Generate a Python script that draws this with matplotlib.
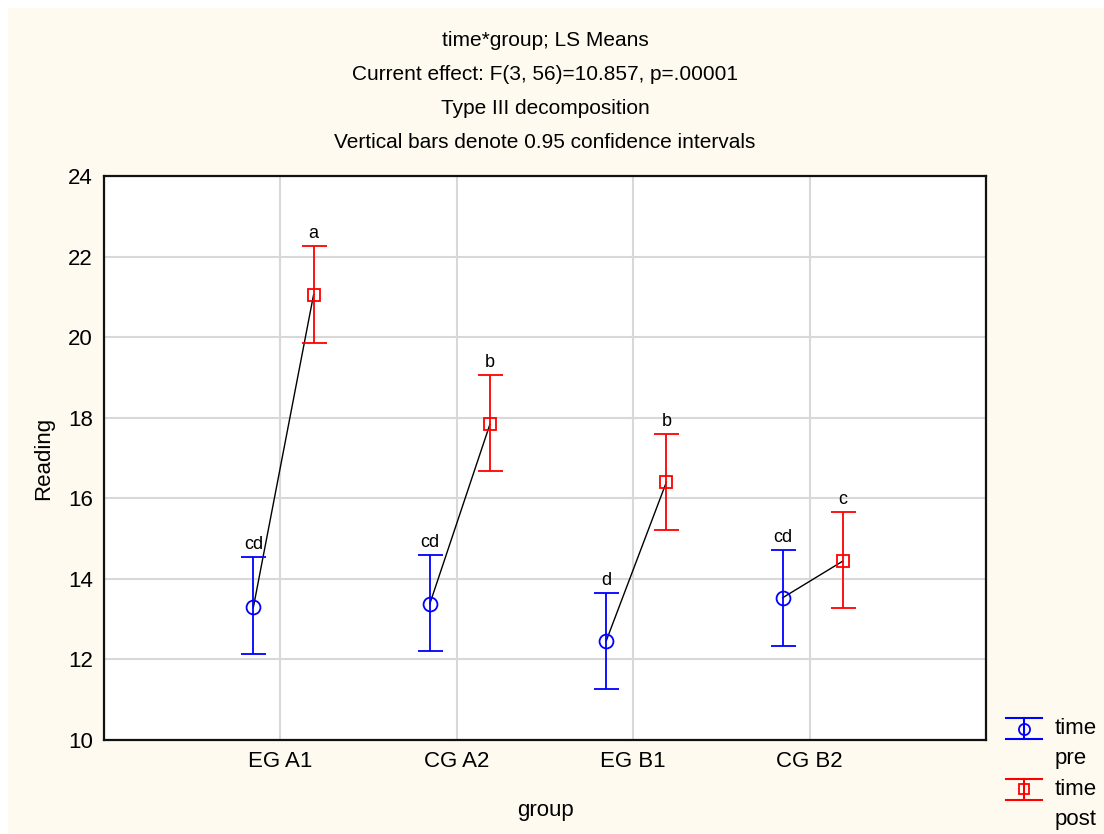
import numpy as np
import matplotlib.pyplot as plt
from matplotlib.lines import Line2D
from matplotlib.patches import Rectangle

plt.rcParams['font.family'] = ['Liberation Sans', 'DejaVu Sans']

groups = ["EG A1", "CG A2", "EG B1", "CG B2"]
pre_mean = [13.30, 13.38, 12.46, 13.53]
pre_lo = [12.14, 12.21, 11.27, 12.33]
pre_hi = [14.54, 14.59, 13.65, 14.72]
post_mean = [21.05, 17.84, 16.40, 14.44]
post_lo = [19.86, 16.68, 15.21, 13.28]
post_hi = [22.26, 19.06, 17.60, 15.66]
pre_letters = ["cd", "cd", "d", "cd"]
post_letters = ["a", "b", "b", "c"]

titles = ["time*group; LS Means",
          "Current effect: F(3, 56)=10.857, p=.00001",
          "Type III decomposition",
          "Vertical bars denote 0.95 confidence intervals"]

bg = "#FFFAF0"
fig = plt.figure(figsize=(11.04, 8.34), dpi=100, facecolor="white")
fig.patches.append(Rectangle((8 / 1104, 0), 1, 826 / 834, transform=fig.transFigure,
                             facecolor=bg, edgecolor="none", zorder=-10))
ax = fig.add_axes([104 / 1104, 94 / 834, 882 / 1104, 564 / 834])

xpos = np.arange(1, len(groups) + 1)
x_pre = xpos - 0.153
x_post = xpos + 0.188

pre_mean = np.array(pre_mean)
post_mean = np.array(post_mean)
pre_err = [pre_mean - np.array(pre_lo), np.array(pre_hi) - pre_mean]
post_err = [post_mean - np.array(post_lo), np.array(post_hi) - post_mean]

for i in range(len(groups)):
    ax.plot([x_pre[i], x_post[i]], [pre_mean[i], post_mean[i]], color="black", lw=1.0, zorder=3)

ax.errorbar(x_pre, pre_mean, yerr=pre_err, fmt="o", color="blue", mfc="none", mec="blue",
            ms=10, mew=1.3, elinewidth=1.3, capsize=9, capthick=1.3, zorder=4)
ax.errorbar(x_post, post_mean, yerr=post_err, fmt="s", color="red", mfc="none", mec="red",
            ms=9, mew=1.3, elinewidth=1.3, capsize=9, capthick=1.3, zorder=4)

for i in range(len(groups)):
    ax.annotate(pre_letters[i], (x_pre[i], pre_hi[i]), xytext=(0, 3), textcoords="offset points",
                ha="center", va="bottom", fontsize=13)
    ax.annotate(post_letters[i], (x_post[i], post_hi[i]), xytext=(0, 3), textcoords="offset points",
                ha="center", va="bottom", fontsize=13)

ax.set_xlim(0, 5)
ax.set_ylim(10, 24)
ax.set_xticks(xpos)
ax.set_xticklabels(groups)
ax.set_yticks(np.arange(10, 25, 2))
ax.tick_params(length=0, labelsize=16, pad=8)
ax.grid(True, color="#D8D8D8", lw=1.5)
ax.set_axisbelow(True)
for s in ax.spines.values():
    s.set_linewidth(1.6)
    s.set_color("#111111")

ax.set_ylabel("Reading", fontsize=16, labelpad=10)
ax.set_xlabel("group", fontsize=16, labelpad=20)

for k, t in enumerate(titles):
    fig.text(545 / 1104, 1 - (40 + 34 * k) / 834, t, ha="center", va="center", fontsize=15)


class ErrHandler:
    def __init__(self, color, marker, ms, dy=7):
        self.color, self.marker, self.ms, self.dy = color, marker, ms, dy

    def legend_artist(self, legend, orig_handle, fontsize, handlebox):
        x0, y0 = handlebox.xdescent, handlebox.ydescent + self.dy
        w, h = handlebox.width, handlebox.height
        tr = handlebox.get_transform()
        cx = x0 + w / 2
        arts = [Line2D([x0, x0 + w], [y0 + h, y0 + h], color=self.color, lw=1.5),
                Line2D([x0, x0 + w], [y0, y0], color=self.color, lw=1.5),
                Line2D([cx, cx], [y0, y0 + h], color=self.color, lw=1.5),
                Line2D([cx], [y0 + h / 2], marker=self.marker, ms=self.ms, mfc="none",
                       mec=self.color, mew=1.3, color=self.color)]
        for a in arts:
            a.set_transform(tr)
            handlebox.add_artist(a)
        return arts[0]


h_pre = Line2D([], [], color="blue")
h_post = Line2D([], [], color="red")
leg = fig.legend([h_pre, h_post], ["time\npre", "time\npost"],
                 handler_map={h_pre: ErrHandler("blue", "o", 8), h_post: ErrHandler("red", "s", 7)},
                 loc="upper left", bbox_to_anchor=(1006 / 1104, 1 - 718 / 834), frameon=False,
                 fontsize=16, handlelength=1.62, handleheight=1.05, handletextpad=0.55,
                 labelspacing=0.45, borderpad=0, borderaxespad=0)
for t in leg.get_texts():
    t.set_linespacing(1.55)

fig.savefig("out.png", dpi=100, facecolor=fig.get_facecolor())
